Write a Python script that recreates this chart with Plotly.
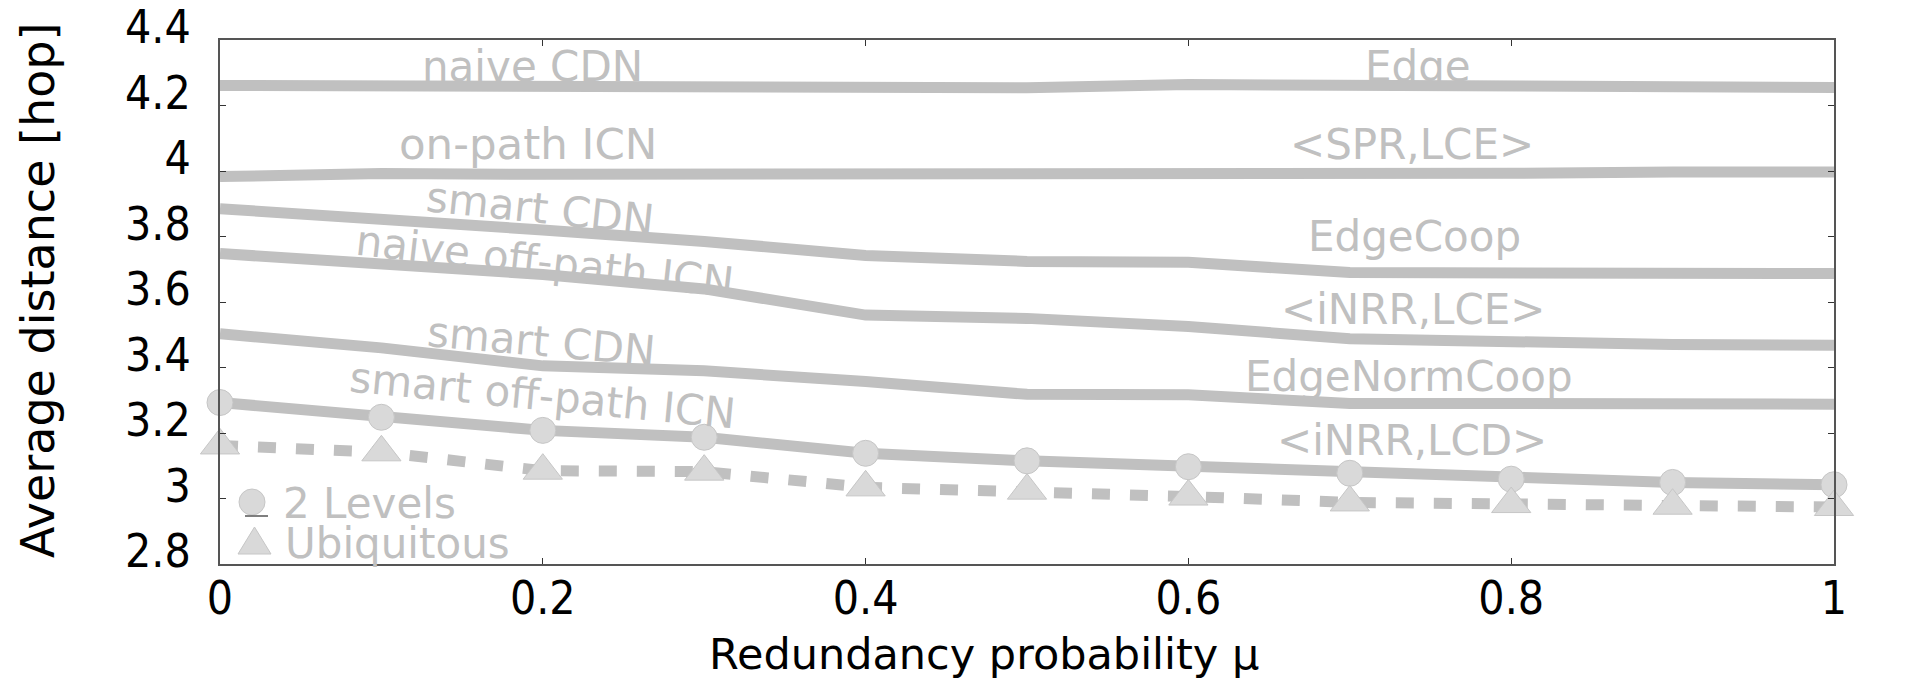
import plotly.graph_objects as go

# ---------------- data ----------------
mu = [0.0, 0.1, 0.2, 0.3, 0.4, 0.5, 0.6, 0.7, 0.8, 0.9, 1.0]
edge = [4.261, 4.261, 4.261, 4.261, 4.261, 4.254, 4.264, 4.263, 4.262, 4.255, 4.255]
spr_lce = [3.983, 3.992, 3.990, 3.990, 3.987, 3.992, 3.992, 3.986, 3.993, 3.997, 3.997]
edge_coop = [3.885, 3.855, 3.820, 3.785, 3.742, 3.724, 3.721, 3.690, 3.690, 3.690, 3.687]
inrr_lce = [3.748, 3.715, 3.684, 3.640, 3.560, 3.550, 3.525, 3.488, 3.475, 3.470, 3.468]
edge_norm_coop = [3.503, 3.460, 3.405, 3.390, 3.357, 3.318, 3.317, 3.290, 3.290, 3.289, 3.288]
inrr_lcd_2levels = [3.293, 3.248, 3.208, 3.187, 3.138, 3.115, 3.097, 3.077, 3.059, 3.049, 3.042]
inrr_lcd_ubiq = [3.162, 3.141, 3.085, 3.082, 3.034, 3.024, 3.006, 2.988, 2.983, 2.978, 2.974]

x_tickvals = [0, 0.2, 0.4, 0.6, 0.8, 1.0]
x_ticktext = ["0", "0.2", "0.4", "0.6", "0.8", "1"]
y_tickvals = [2.8, 3.0, 3.2, 3.4, 3.6, 3.8, 4.0, 4.2, 4.4]
y_ticktext = ["2.8", "3", "3.2", "3.4", "3.6", "3.8", "4", "4.2", "4.4"]

left_labels = ["naive CDN", "on-path ICN", "smart CDN", "naive off-path ICN",
               "smart CDN", "smart off-path ICN"]
right_labels = ["Edge", "&lt;SPR,LCE&gt;", "EdgeCoop", "&lt;iNRR,LCE&gt;",
                "EdgeNormCoop", "&lt;iNRR,LCD&gt;"]
legend_labels = ["2 Levels", "Ubiquitous"]

# ---------------- layout geometry (pixels) ----------------
W, H = 1915, 684
PL, PR, PT, PB = 220, 1834, 40, 564
X0, X1 = 0.0, 1.0
Y0, Y1 = 2.8, 4.4


def px2x(px):
    return X0 + (px - PL) / (PR - PL) * (X1 - X0)


def py2y(py):
    return Y1 - (py - PT) / (PB - PT) * (Y1 - Y0)


def px2paper(px):
    return (px - PL) / (PR - PL)


def py2paper(py):
    return (PB - py) / (PB - PT)


LINE = "#c0c0c0"
MFILL = "#d9d9d9"
MLINE = "#c6c6c6"
FONT = "DejaVu Sans"
TICKFONT = "DejaVu Sans Condensed, Liberation Sans, DejaVu Sans"

fig = go.Figure()
for ys in [edge, spr_lce, edge_coop, inrr_lce, edge_norm_coop]:
    fig.add_trace(go.Scatter(x=mu, y=ys, mode="lines",
                             line=dict(color=LINE, width=11),
                             showlegend=False, hoverinfo="skip"))
fig.add_trace(go.Scatter(x=mu, y=inrr_lcd_2levels, mode="lines+markers",
                         line=dict(color=LINE, width=11),
                         marker=dict(symbol="circle", size=26, color=MFILL,
                                     line=dict(color=MLINE, width=1)),
                         cliponaxis=False,
                         showlegend=False, hoverinfo="skip"))
fig.add_trace(go.Scatter(x=mu, y=inrr_lcd_ubiq, mode="lines+markers",
                         line=dict(color=LINE, width=11, dash="18px,20px"),
                         marker=dict(symbol="triangle-up", size=34, color=MFILL,
                                     line=dict(color=MLINE, width=1)),
                         cliponaxis=False,
                         showlegend=False, hoverinfo="skip"))

annotations = []
# (center px x, center px y, angle, size)
left_pos = [(532, 66, 0, 42), (528, 144, 0, 43.5), (540, 208, 6, 42), (545, 261, 6.5, 42),
            (541, 341, 5, 42), (542, 395, 5.5, 42)]
right_pos = [(1418, 66, 0, 42), (1412, 144, 0, 42), (1414, 236, 0, 42), (1413, 309, 0, 42),
             (1409, 376, 0, 42), (1412, 440, 0, 42)]
for txt, (cx, cy, ang, sz) in list(zip(left_labels, left_pos)) + list(zip(right_labels, right_pos)):
    annotations.append(dict(text=txt, x=px2x(cx), y=py2y(cy), xref="x", yref="y",
                            showarrow=False, textangle=ang,
                            xanchor="center", yanchor="middle",
                            font=dict(family=FONT, size=sz, color=LINE)))
for txt, (lx, cy) in zip(legend_labels, [(281, 503), (283, 543)]):
    annotations.append(dict(text=txt, x=px2paper(lx), y=py2paper(cy), xref="paper",
                            yref="paper", showarrow=False, xanchor="left",
                            yanchor="middle",
                            font=dict(family=FONT, size=42, color=LINE)))
# axis titles
annotations.append(dict(text="Redundancy probability \u03bc", x=px2paper(984),
                        y=py2paper(654), xref="paper", yref="paper", showarrow=False,
                        xanchor="center", yanchor="middle",
                        font=dict(family=FONT, size=43, color="black")))
annotations.append(dict(text="Average distance [hop]", x=px2paper(38),
                        y=py2paper(291), xref="paper", yref="paper", showarrow=False,
                        textangle=-90, xanchor="center", yanchor="middle",
                        font=dict(family=FONT, size=46, color="black")))

shapes = []
# legend symbols
shapes.append(dict(type="circle", xref="paper", yref="paper",
                   x0=px2paper(239), x1=px2paper(265), y0=py2paper(515), y1=py2paper(489),
                   fillcolor=MFILL, line=dict(color=MLINE, width=1), layer="above"))
shapes.append(dict(type="line", xref="paper", yref="paper",
                   x0=px2paper(245), x1=px2paper(268), y0=py2paper(516), y1=py2paper(516),
                   line=dict(color="#555555", width=1.5), layer="above"))
shapes.append(dict(type="path", xref="paper", yref="paper",
                   path="M {a},{b} L {c},{b} L {d},{e} Z".format(
                       a=px2paper(238), b=py2paper(554), c=px2paper(271),
                       d=px2paper(254.5), e=py2paper(527)),
                   fillcolor=MFILL, line=dict(color=MLINE, width=1), layer="above"))

fig.update_layout(
    width=W, height=H, autosize=False,
    margin=dict(l=PL, r=W - PR, t=PT, b=H - PB, pad=0, autoexpand=False),
    paper_bgcolor="white", plot_bgcolor="white",
    showlegend=False,
    annotations=annotations, shapes=shapes,
    font=dict(family=FONT, size=41, color="black"),
)
fig.update_xaxes(range=[X0, X1], tickvals=x_tickvals, ticktext=x_ticktext,
                 ticks="inside", ticklen=6, tickwidth=1, tickcolor="#333",
                 showline=True, linecolor="#555", linewidth=2, mirror="ticks",
                 showgrid=False, zeroline=False, ticklabelstandoff=-7,
                 automargin=False,
                 tickfont=dict(family=TICKFONT, size=46, color="black"))
fig.update_yaxes(range=[Y0, Y1], tickvals=y_tickvals, ticktext=y_ticktext,
                 ticks="inside", ticklen=6, tickwidth=1, tickcolor="#333",
                 showline=True, linecolor="#555", linewidth=2, mirror="ticks",
                 showgrid=False, zeroline=False, ticklabelstandoff=18,
                 ticklabelshift=-13, automargin=False,
                 tickfont=dict(family=TICKFONT, size=46, color="black"))

fig.write_html("out.html")
